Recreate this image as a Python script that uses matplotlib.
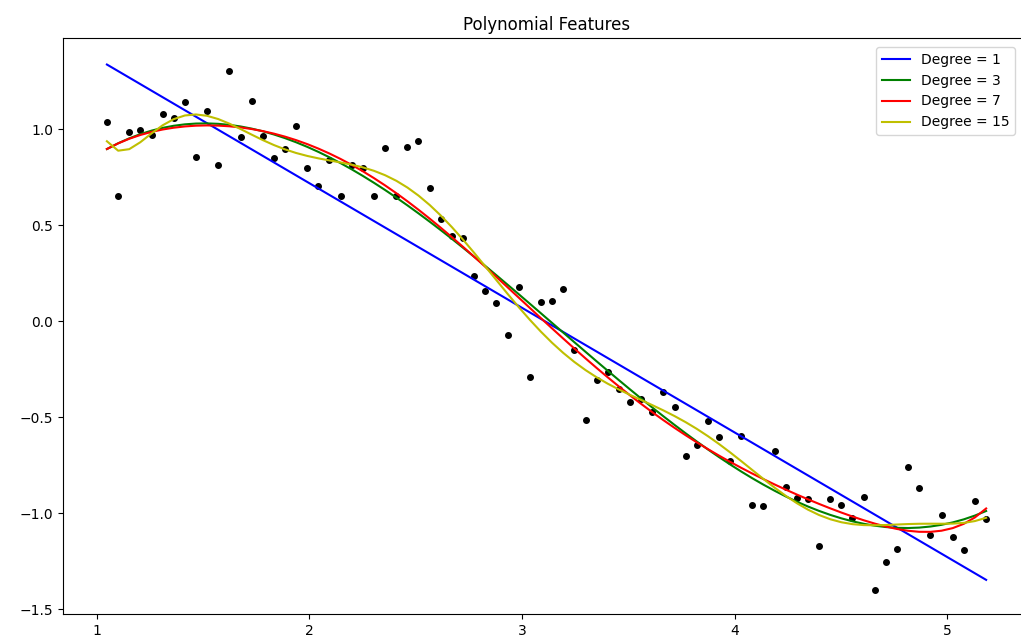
import numpy as np
import matplotlib
matplotlib.use("Agg")
import matplotlib.pyplot as plt

# x positions (radians, 60..297 degrees) and noisy sine values
x = [1.047, 1.100, 1.152, 1.204, 1.257, 1.309, 1.361, 1.414, 1.466, 1.518,
     1.571, 1.623, 1.676, 1.728, 1.780, 1.833, 1.885, 1.937, 1.990, 2.042,
     2.094, 2.147, 2.199, 2.251, 2.304, 2.356, 2.409, 2.461, 2.513, 2.566,
     2.618, 2.670, 2.723, 2.775, 2.827, 2.880, 2.932, 2.985, 3.037, 3.089,
     3.142, 3.194, 3.246, 3.299, 3.351, 3.403, 3.456, 3.508, 3.560, 3.613,
     3.665, 3.718, 3.770, 3.822, 3.875, 3.927, 3.979, 4.032, 4.084, 4.136,
     4.189, 4.241, 4.294, 4.346, 4.398, 4.451, 4.503, 4.555, 4.608, 4.660,
     4.712, 4.765, 4.817, 4.869, 4.922, 4.974, 5.027, 5.079, 5.131, 5.184]
y = [1.036, 0.651, 0.984, 0.993, 0.970, 1.077, 1.056, 1.139, 0.854, 1.095,
     0.814, 1.302, 0.957, 1.146, 0.965, 0.847, 0.894, 1.017, 0.795, 0.705,
     0.840, 0.653, 0.810, 0.799, 0.651, 0.899, 0.651, 0.905, 0.938, 0.691,
     0.533, 0.444, 0.432, 0.236, 0.156, 0.092, -0.071, 0.175, -0.292, 0.097,
     0.106, 0.168, -0.149, -0.514, -0.306, -0.264, -0.352, -0.422, -0.404, -0.474,
     -0.370, -0.450, -0.703, -0.646, -0.519, -0.606, -0.729, -0.599, -0.957, -0.964,
     -0.677, -0.863, -0.924, -0.927, -1.172, -0.925, -0.957, -1.026, -0.917, -1.399,
     -1.257, -1.186, -0.762, -0.872, -1.115, -1.009, -1.125, -1.191, -0.936, -1.033]
degrees = [1, 3, 7, 15]
colors = ['b', 'g', 'r', 'y']

x = np.array(x)
y = np.array(y)


def fit_predict(x, y, deg, alpha=3e-16):
    # raw powers, centred and scaled, least squares with a tiny damping
    X = np.column_stack([x ** k for k in range(1, deg + 1)])
    Xc = X - X.mean(axis=0)
    Xs = Xc / np.linalg.norm(Xc, axis=0)
    U, s, Vt = np.linalg.svd(Xs, full_matrices=False)
    f = s / (s ** 2 + alpha)
    coef = Vt.T @ (f * (U.T @ (y - y.mean())))
    return Xs @ coef + y.mean()


fig = plt.figure(figsize=(10.21, 6.43), dpi=100)
ax = fig.add_axes([63/1021, 29/643, 967/1021, 576/643])
ax.plot(x, y, '.', color='k', markersize=8)

for d, c in zip(degrees, colors):
    ax.plot(x, fit_predict(x, y, d), color=c, label='Degree = %d' % d)

ax.set_xlim(0.8404, 5.3904)
ax.set_ylim(-1.526, 1.474)
ax.set_title('Polynomial Features')
ax.legend(loc='upper right', bbox_to_anchor=(1015/1021, 1 - 47/643),
          bbox_transform=fig.transFigure, borderaxespad=0)

fig.savefig('out.png', dpi=100)
